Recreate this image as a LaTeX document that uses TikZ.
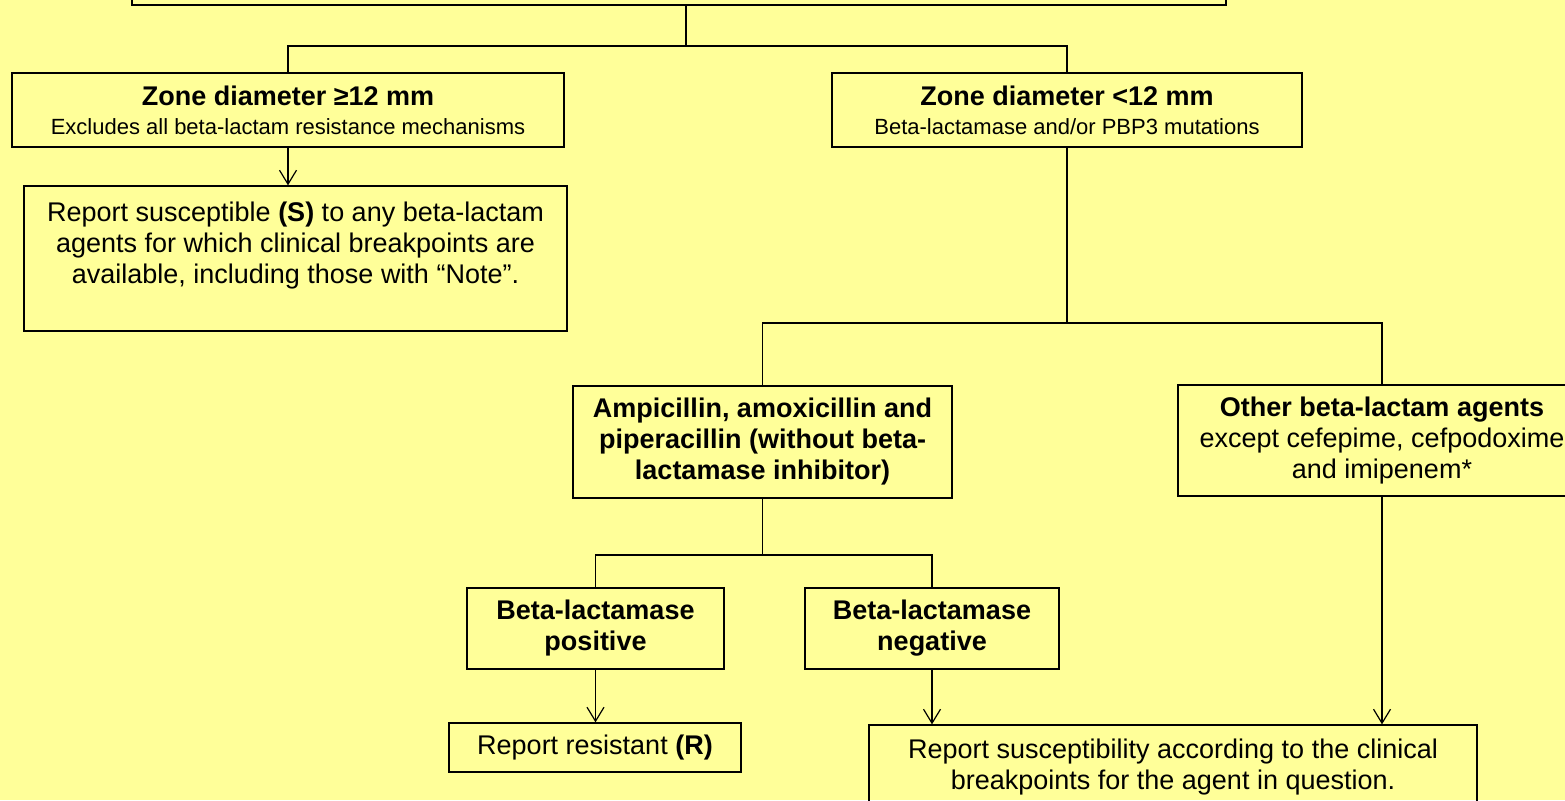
\documentclass[tikz,border=0pt]{standalone}
\usepackage{fontspec}
\setmainfont{Liberation Sans}
\usetikzlibrary{arrows.meta}
\definecolor{bgyellow}{HTML}{FFFF99}
\begin{document}
\begin{tikzpicture}[x=1pt,y=-1pt,
  box/.style={draw=black, line width=1.3pt, inner sep=0pt, align=center,
    font=\fontsize{27}{31}\selectfont},
  small/.style={font=\fontsize{22}{26}\selectfont},
  link/.style={draw=black, line width=1.2pt},
  arr/.style={link, -{Straight Barb[length=14pt,width=17pt,line width=1.2pt]}}]
\fill[bgyellow] (0,0) rectangle (1565,800);
\useasboundingbox (0,0) rectangle (1565,800);
\clip (0,0) rectangle (1565,800);
% boxes
\node[box, minimum width=1094pt, minimum height=80pt] (top) at (679,-35) {};
\node[box, minimum width=552pt, minimum height=74pt] (z1) at (288,110)
  {\textbf{Zone diameter ≥12 mm}\\[-2pt]{\fontsize{22}{26}\selectfont Excludes all beta-lactam resistance mechanisms}};
\node[box, minimum width=470pt, minimum height=74pt] (z2) at (1067,110)
  {\textbf{Zone diameter <12 mm}\\[-2pt]{\fontsize{22}{26}\selectfont Beta-lactamase and/or PBP3 mutations}};
\node[box, minimum width=543pt, minimum height=145pt] (rs) at (295.5,258.5)
  {Report susceptible \textbf{(S)} to any beta-lactam\\agents for which clinical breakpoints are\\available, including those with “Note”.\\\mbox{}};
\node[box, minimum width=379pt, minimum height=112pt] (amp) at (762.5,442)
  {\textbf{Ampicillin, amoxicillin and}\\\textbf{piperacillin (without beta-}\\\textbf{lactamase inhibitor)}};
\node[box, minimum width=408pt, minimum height=111pt] (oth) at (1382,440.5)
  {\textbf{Other beta-lactam agents}\\except cefepime, cefpodoxime\\and imipenem*};
\node[box, minimum width=257pt, minimum height=81pt] (pos) at (595.5,628.5)
  {\textbf{Beta-lactamase}\\\textbf{positive}};
\node[box, minimum width=254pt, minimum height=81pt] (neg) at (932,628.5)
  {\textbf{Beta-lactamase}\\\textbf{negative}};
\node[box, minimum width=292pt, minimum height=49pt] (rr) at (595,747.5)
  {Report resistant \textbf{(R)}};
\node[box, minimum width=608pt, minimum height=84pt] (rsus) at (1173,767)
  {Report susceptibility according to the clinical\\breakpoints for the agent in question.};
% junctions
\coordinate (j1) at (686,46);
\coordinate (j2) at (1067,323);
\coordinate (j3) at (762.5,555);
% connectors
\draw[link] (top.south -| j1) -- (j1);
\draw[link] (z1.north) |- (j1) -| (z2.north);
\draw[arr] (z1.south) -- (z1.south |- rs.north);
\draw[link] (z2.south) -- (j2);
\draw[link] (amp.north) |- (j2) -| (oth.north);
\draw[link] (amp.south) -- (j3);
\draw[link] (pos.north) |- (j3) -| (neg.north);
\draw[arr] (pos.south) -- (pos.south |- rr.north);
\draw[arr] (neg.south) -- (neg.south |- rsus.north);
\draw[arr] (oth.south) -- (oth.south |- rsus.north);
\end{tikzpicture}
\end{document}
